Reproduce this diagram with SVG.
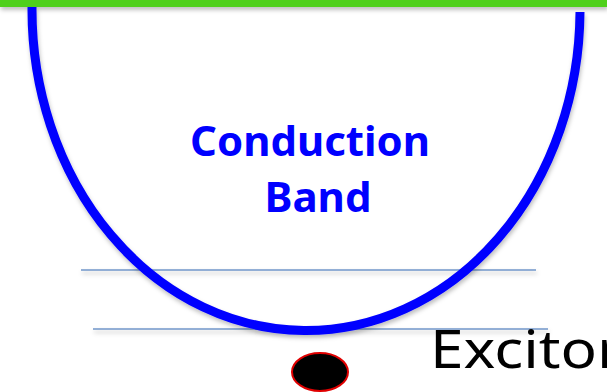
<svg xmlns="http://www.w3.org/2000/svg" width="607" height="392" viewBox="0 0 607 392">
<defs>
<filter id="shl" filterUnits="userSpaceOnUse" x="0" y="0" width="607" height="392">
<feDropShadow dx="1" dy="3" stdDeviation="2" flood-color="#000" flood-opacity="0.25"/>
</filter>
<style>
.lvl{stroke:#7096c8;stroke-width:1.5;fill:none}
.cb{font-family:"Comic Sans MS","Noto Sans",sans-serif;font-weight:bold;fill:#0000ff;font-size:42px;text-anchor:middle}
</style>
</defs>
<rect width="607" height="392" fill="#fff"/>
<rect x="0" y="0" width="607" height="7" fill="#50d01d" filter="url(#shl)"/>
<g id="connectors">
<line class="lvl" x1="81" y1="270" x2="536" y2="270" filter="url(#shl)"/>
<line class="lvl" x1="93" y1="329" x2="548" y2="329" filter="url(#shl)"/>
</g>
<g id="band">
<path d="M32 7 A274 321 0 0 0 580 12" fill="none" stroke="#0000ff" stroke-width="9" filter="url(#shl)"/>
<text class="cb" x="310" y="156" textLength="240" lengthAdjust="spacingAndGlyphs">Conduction</text>
<text class="cb" x="318" y="212" textLength="107" lengthAdjust="spacingAndGlyphs">Band</text>
</g>
<g id="exciton">
<ellipse cx="320" cy="372" rx="28" ry="19" fill="#000" stroke="#e00000" stroke-width="2"/>
</g>
<g id="label">
<text x="430" y="368" font-family="'Comic Sans MS','Noto Sans',sans-serif" font-size="52" fill="#000" textLength="192" lengthAdjust="spacingAndGlyphs">Excitor</text>
</g>
</svg>
